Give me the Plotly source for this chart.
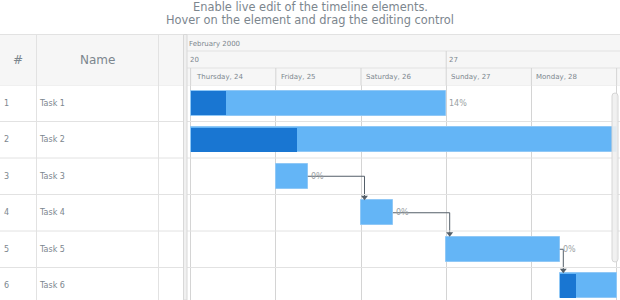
import plotly.graph_objects as go
import pandas as pd

# ---------------- data ----------------
title_lines = ["Enable live edit of the timeline elements.",
               "Hover on the element and drag the editing control"]
grid_headers = ["#", "Name"]
task_ids = ["1", "2", "3", "4", "5", "6"]
task_names = ["Task 1", "Task 2", "Task 3", "Task 4", "Task 5", "Task 6"]
task_start = ["2000-02-24 00:00", "2000-02-24 00:00", "2000-02-25 00:00",
              "2000-02-26 00:00", "2000-02-27 00:00", "2000-02-28 08:00"]
task_end = ["2000-02-27 00:00", "2000-02-29 00:00", "2000-02-25 09:00",
            "2000-02-26 09:00", "2000-02-28 08:00", "2000-02-29 00:00"]
task_progress = [0.14, 0.25, 0.0, 0.0, 0.0, 0.28]
links = [("Task 3", "Task 4"), ("Task 4", "Task 5"), ("Task 5", "Task 6")]
month_label = "February 2000"
week_starts = ["2000-02-20", "2000-02-27"]
week_labels = ["20", "27"]
day_dates = ["2000-02-24", "2000-02-25", "2000-02-26", "2000-02-27",
             "2000-02-28", "2000-02-29"]
day_labels = ["Thursday, 24", "Friday, 25", "Saturday, 26", "Sunday, 27",
              "Monday, 28", "Tuesday, 29"]

# ---------------- layout constants ----------------
W, H = 620, 300
FONT = "DejaVu Sans"
TXT = "#7c868e"
LINE = "#e2e2e2"
VLINE = "#d4d4d4"
HEADER_BG = "#f6f6f6"
DARK = "#1976d2"
LIGHT = "#64b5f6"
LINK = "#545f69"

HEAD_TOP, ROW1, ROW2, BODY_TOP = 34.5, 51, 68, 85
ROW_H = 36.5
TL_LEFT = 187          # timeline left edge (px)
PX_PER_DAY = 85.2
FIRST_DAY_PX = 190.6   # where the first day column starts


def px_x(x):
    return x / W


def px_y(y):
    return 1 - y / H


first_day = pd.Timestamp(day_dates[0])
x0 = first_day - pd.Timedelta(days=(FIRST_DAY_PX - TL_LEFT) / PX_PER_DAY)
x1 = x0 + pd.Timedelta(days=(W - TL_LEFT) / PX_PER_DAY)
ms_per_px = 86400000 / PX_PER_DAY

n = len(task_names)
ys = list(range(n))
y_top = -0.5
y_bottom = y_top + (H - BODY_TOP) / ROW_H
BAR_W = 0.69

starts = pd.to_datetime(task_start)
ends = pd.to_datetime(task_end)
dur_ms = [(e - s).total_seconds() * 1000 for s, e in zip(starts, ends)]

fig = go.Figure()

# base bars
fig.add_trace(go.Bar(
    orientation="h", y=ys, x=dur_ms, base=[s.isoformat() for s in starts],
    width=BAR_W, marker=dict(color=LIGHT, line=dict(color="#90c8f6", width=1)),
    hoverinfo="skip", showlegend=False))
# progress bars
fig.add_trace(go.Bar(
    orientation="h", y=ys, x=[d * p for d, p in zip(dur_ms, task_progress)],
    base=[s.isoformat() for s in starts], width=BAR_W - 0.02,
    marker=dict(color=DARK, line=dict(width=0)),
    hoverinfo="skip", showlegend=False))

# connectors
off = pd.Timedelta(milliseconds=3.5 * ms_per_px)
for a, b in links:
    ia, ib = task_names.index(a), task_names.index(b)
    xs = ends[ia]
    xv = starts[ib] + off
    ytip = ib - BAR_W / 2 - 1.5 / ROW_H
    fig.add_trace(go.Scatter(
        x=[xs, xv, xv], y=[ia, ia, ytip], mode="lines",
        line=dict(color=LINK, width=1), hoverinfo="skip", showlegend=False))
    fig.add_trace(go.Scatter(
        x=[xv], y=[ytip - 1.5 / ROW_H], mode="markers",
        marker=dict(symbol="triangle-down", size=6, color=LINK),
        hoverinfo="skip", showlegend=False))

shapes = []
annotations = []

# header background
shapes.append(dict(type="rect", xref="paper", yref="paper",
                   x0=0, x1=1, y0=px_y(BODY_TOP), y1=px_y(HEAD_TOP),
                   fillcolor=HEADER_BG, line=dict(width=0), layer="below"))
# header borders
shapes.append(dict(type="line", xref="paper", yref="paper", x0=0, x1=1,
                   y0=px_y(HEAD_TOP), y1=px_y(HEAD_TOP),
                   line=dict(color=LINE, width=1)))
for yy in [ROW1, ROW2]:
    shapes.append(dict(type="line", xref="paper", yref="paper",
                       x0=px_x(TL_LEFT), x1=1, y0=px_y(yy), y1=px_y(yy),
                       line=dict(color=LINE, width=1)))
# row lines (including header bottom)
for i in range(n + 1):
    yb = i - 0.5
    shapes.append(dict(type="line", xref="paper", yref="y", x0=0, x1=1,
                       y0=yb, y1=yb, line=dict(color=LINE, width=1)))
# data grid column lines
for xx in [36.5, 158.5]:
    shapes.append(dict(type="line", xref="paper", yref="paper",
                       x0=px_x(xx), x1=px_x(xx), y0=0, y1=px_y(HEAD_TOP),
                       line=dict(color=LINE, width=1)))
# splitter
shapes.append(dict(type="rect", xref="paper", yref="paper",
                   x0=px_x(183.5), x1=px_x(TL_LEFT), y0=0, y1=px_y(HEAD_TOP),
                   fillcolor="#f0f0f0", line=dict(color="#d8d8d8", width=1)))
# day separators in day header row
for d in day_dates:
    shapes.append(dict(type="line", xref="x", yref="paper", x0=d, x1=d,
                       y0=px_y(BODY_TOP), y1=px_y(ROW2),
                       line=dict(color=VLINE, width=1)))
# week separators
for wk in week_starts:
    if pd.Timestamp(wk) > x0:
        shapes.append(dict(type="line", xref="x", yref="paper", x0=wk, x1=wk,
                           y0=px_y(ROW2), y1=px_y(ROW1),
                           line=dict(color=VLINE, width=1)))
# scrollbar
sx0, sx1, sy0, sy1, r = 612, 618, 93, 262, 3
path = (f"M {px_x(sx0)},{px_y(sy0 + r)} L {px_x(sx0)},{px_y(sy1 - r)} "
        f"Q {px_x(sx0)},{px_y(sy1)} {px_x(sx0 + r)},{px_y(sy1)} "
        f"Q {px_x(sx1)},{px_y(sy1)} {px_x(sx1)},{px_y(sy1 - r)} "
        f"L {px_x(sx1)},{px_y(sy0 + r)} "
        f"Q {px_x(sx1)},{px_y(sy0)} {px_x(sx0 + r)},{px_y(sy0)} "
        f"Q {px_x(sx0)},{px_y(sy0)} {px_x(sx0)},{px_y(sy0 + r)} Z")
shapes.append(dict(type="path", xref="paper", yref="paper", path=path,
                   fillcolor="rgba(240,240,240,0.9)",
                   line=dict(color="#d6d6d6", width=1), layer="above"))

# title
for k, t in enumerate(title_lines):
    annotations.append(dict(text=t, xref="paper", yref="paper", x=0.5,
                            y=px_y(6.5 + 13.5 * k), xanchor="center",
                            yanchor="middle", showarrow=False,
                            font=dict(family=FONT, size=11.4, color=TXT)))
# grid headers
for t, xc in zip(grid_headers, [18, 97]):
    annotations.append(dict(text=t, xref="paper", yref="paper", x=px_x(xc),
                            y=px_y(59.5), xanchor="center", yanchor="middle",
                            showarrow=False,
                            font=dict(family=FONT, size=12, color=TXT)))
# rows
for i, (tid, name) in enumerate(zip(task_ids, task_names)):
    annotations.append(dict(text=tid, xref="paper", yref="y", x=px_x(2),
                            y=i, xanchor="left", yanchor="middle",
                            showarrow=False,
                            font=dict(family=FONT, size=8, color=TXT)))
    annotations.append(dict(text=name, xref="paper", yref="y", x=px_x(37),
                            y=i, xanchor="left", yanchor="middle",
                            showarrow=False,
                            font=dict(family=FONT, size=8, color=TXT)))
    annotations.append(dict(text=f"{round(task_progress[i] * 100)}%",
                            xref="x", yref="y", x=ends[i], y=i,
                            xanchor="left", yanchor="middle", xshift=1,
                            showarrow=False,
                            font=dict(family=FONT, size=8, color="#9a9fa4")))
# timeline header texts
annotations.append(dict(text=month_label, xref="paper", yref="paper",
                        x=px_x(TL_LEFT), y=px_y(43.5),
                        xanchor="left", yanchor="middle", showarrow=False,
                        font=dict(family=FONT, size=7, color=TXT)))
for wk, lab in zip(week_starts, week_labels):
    xw = max(pd.Timestamp(wk), x0)
    annotations.append(dict(text=lab, xref="x", yref="paper", x=xw,
                            y=px_y((ROW1 + ROW2) / 2), xanchor="left",
                            yanchor="middle", xshift=1, showarrow=False,
                            font=dict(family=FONT, size=7, color=TXT)))
for d, lab in zip(day_dates, day_labels):
    annotations.append(dict(text=lab, xref="x", yref="paper", x=d,
                            y=px_y((ROW2 + BODY_TOP) / 2), xanchor="left",
                            yanchor="middle", xshift=3, showarrow=False,
                            font=dict(family=FONT, size=7, color=TXT)))

fig.update_layout(
    width=W, height=H, autosize=False,
    margin=dict(l=0, r=0, t=0, b=0, pad=0),
    paper_bgcolor="white", plot_bgcolor="white",
    barmode="overlay", bargap=0,
    shapes=shapes, annotations=annotations,
    xaxis=dict(type="date", domain=[px_x(TL_LEFT), 1],
               range=[x0, x1], showgrid=True, gridcolor=VLINE, gridwidth=1,
               tick0=day_dates[0], dtick=86400000, showticklabels=False,
               zeroline=False, ticks="", fixedrange=True),
    yaxis=dict(domain=[0, px_y(BODY_TOP)], range=[y_bottom, y_top],
               showgrid=False, showticklabels=False, zeroline=False,
               ticks="", fixedrange=True),
)

fig.write_html("out.html")
